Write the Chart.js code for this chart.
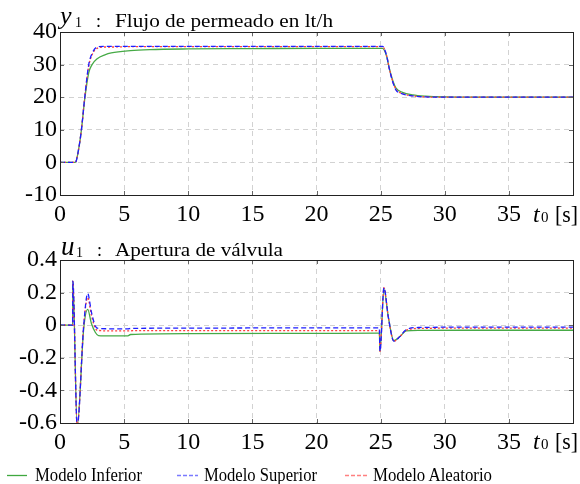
<!DOCTYPE html>
<html>
<head>
<meta charset="utf-8">
<script src="https://cdn.jsdelivr.net/npm/chart.js"></script>
<style>
  html, body { margin: 0; padding: 0; background: #fff; }
  #wrap { position: relative; width: 580px; height: 484px; overflow: hidden; }
  .box { position: absolute; left: 0; width: 580px; height: 230px; }
  #labels { position: absolute; left: 0; top: 0; }
  #labels text { font-family: "Liberation Serif", "Times New Roman", serif; fill: #000; }
</style>
</head>
<body>
<div id="wrap">
  <div class="box" style="top:0"><canvas id="chartY" width="580" height="230"></canvas></div>
  <div class="box" style="top:228px"><canvas id="chartU" width="580" height="230"></canvas></div>
  <svg id="labels" width="580" height="484">
    <!-- titulos -->
    <text x="60" y="23.5" font-size="26" font-style="italic">y</text>
    <text x="75" y="26.5" font-size="14">1</text>
    <text x="96" y="26.5" font-size="18">:</text>
    <text x="115" y="26.5" font-size="18" textLength="218" lengthAdjust="spacingAndGlyphs">Flujo de permeado en lt/h</text>

    <text x="61" y="255" font-size="27" font-style="italic">u</text>
    <text x="76" y="256.5" font-size="14">1</text>
    <text x="97" y="255.5" font-size="18">:</text>
    <text x="115" y="255.5" font-size="18" textLength="168" lengthAdjust="spacingAndGlyphs">Apertura de válvula</text>

    <!-- eje t -->
    <text x="533" y="221.5" font-size="24" font-style="italic">t</text>
    <text x="541" y="221.5" font-size="15">0</text>
    <text x="555" y="221.5" font-size="24" textLength="23" lengthAdjust="spacingAndGlyphs">[s]</text>
    <text x="533" y="449" font-size="24" font-style="italic">t</text>
    <text x="541" y="449" font-size="15">0</text>
    <text x="555" y="449" font-size="24" textLength="23" lengthAdjust="spacingAndGlyphs">[s]</text>

    <!-- leyenda -->
    <line x1="7" y1="475.5" x2="27" y2="475.5" stroke="#3fa83f" stroke-width="1.3"></line>
    <text x="35" y="481" font-size="18" textLength="107" lengthAdjust="spacingAndGlyphs">Modelo Inferior</text>
    <line x1="177" y1="475.5" x2="198" y2="475.5" stroke="#7a7aff" stroke-width="1.3" stroke-dasharray="4,2"></line>
    <text x="204" y="481" font-size="18" textLength="113" lengthAdjust="spacingAndGlyphs">Modelo Superior</text>
    <line x1="345" y1="475.5" x2="367" y2="475.5" stroke="#ff8080" stroke-width="1.3" stroke-dasharray="4,2"></line>
    <text x="373" y="481" font-size="18" textLength="119" lengthAdjust="spacingAndGlyphs">Modelo Aleatorio</text>
  </svg>
</div>
<script>
// tiempo [s] y flujo de permeado y1 [lt/h]
var tY = [0, 1.2, 1.45, 1.67, 1.93, 2.24, 2.5, 2.9, 3.5, 4, 5.5, 7, 10, 15, 20, 25.15, 25.45, 25.7, 26.0, 26.2, 26.7, 27.5, 28.5, 30, 35, 40];
var ySuperior  = [0, 0, 4, 10, 20, 30, 33.4, 35.4, 35.6, 35.6, 35.6, 35.6, 35.6, 35.6, 35.6, 35.6, 33, 28.3, 24, 22.2, 21, 20.4, 20.1, 20, 20, 20];
var yAleatorio = [0, 0, 4, 10, 20, 29.5, 33, 35, 35.4, 35.4, 35.5, 35.5, 35.5, 35.5, 35.5, 35.5, 33, 28.4, 24.2, 22.4, 21.1, 20.4, 20.1, 20, 20, 20];
var yInferior  = [0, 0, 4, 10, 19.5, 27.5, 30, 31.8, 33, 33.6, 34.3, 34.6, 34.8, 34.9, 35, 35, 32.8, 28.5, 24.5, 22.8, 21.5, 20.7, 20.3, 20.1, 20, 20];

// tiempo [s] y apertura de valvula u1
var tU = [0, 0.99, 1.0, 1.34, 1.85, 2.16, 2.45, 2.76, 3.0, 4, 5.3, 5.5, 10, 20, 24.9, 24.95, 25.26, 25.6, 26.03, 26.5, 27.0, 28, 32, 40];
var uSuperior  = [0, 0, 0.27, -0.62, 0, 0.195, 0.08, -0.006, -0.02, -0.022, -0.022, -0.02, -0.018, -0.016, -0.016, -0.16, 0.23, 0.05, -0.098, -0.07, -0.027, -0.014, -0.012, -0.012];
var uAleatorio = [0, 0, 0.27, -0.62, 0, 0.17, 0.06, -0.02, -0.032, -0.035, -0.035, -0.034, -0.033, -0.033, -0.033, -0.16, 0.23, 0.05, -0.098, -0.07, -0.03, -0.02, -0.018, -0.018];
var uInferior  = [0, 0, 0.27, -0.62, -0.02, 0.097, 0.01, -0.045, -0.064, -0.066, -0.065, -0.057, -0.052, -0.05, -0.049, -0.16, 0.22, 0.05, -0.095, -0.07, -0.035, -0.032, -0.031, -0.031];

// ticks
var tTicks = [0, 5, 10, 15, 20, 25, 30, 35, 40];
var tTickLabels = ['0', '5', '10', '15', '20', '25', '30', '35', ''];
var yTicks = [-10, 0, 10, 20, 30, 40];
var yTickLabels = ['-10', '0', '10', '20', '30', '40'];
var uTicks = [-0.6, -0.4, -0.2, 0, 0.2, 0.4];
var uTickLabels = ['-0.6', '-0.4', '-0.2', '0', '0.2', '0.4'];

var serif = '"Liberation Serif", "Times New Roman", serif';

function pts(t, v) {
    return t.map(function (x, i) { return { x: x, y: v[i] }; });
}

// marco negro y marcas cortas hacia adentro
var frame = {
    id: 'frame',
    afterDraw: function (chart) {
        var a = chart.chartArea, ctx = chart.ctx;
        var sx = chart.scales.x, sy = chart.scales.y;
        ctx.save();
        ctx.strokeStyle = '#666';
        ctx.lineWidth = 1;
        ctx.beginPath();
        sx.ticks.forEach(function (t) {
            var px = Math.round(sx.getPixelForValue(t.value)) + 0.5;
            ctx.moveTo(px, a.bottom); ctx.lineTo(px, a.bottom - 4);
            ctx.moveTo(px, a.top); ctx.lineTo(px, a.top + 4);
        });
        sy.ticks.forEach(function (t) {
            var py = Math.round(sy.getPixelForValue(t.value)) + 0.5;
            ctx.moveTo(a.left, py); ctx.lineTo(a.left + 4, py);
            ctx.moveTo(a.right, py); ctx.lineTo(a.right - 4, py);
        });
        ctx.stroke();
        ctx.strokeStyle = '#222';
        ctx.strokeRect(Math.round(a.left) + 0.5, Math.round(a.top) + 0.5,
            Math.round(a.right - a.left), Math.round(a.bottom - a.top));
        ctx.restore();
    }
};

function makeChart(id, t, sup, ale, inf, yMin, yMax, yT, yL) {
    return new Chart(document.getElementById(id).getContext('2d'), {
        type: 'line',
        data: {
            datasets: [{
                label: 'Modelo Superior',
                data: pts(t, sup),
                borderColor: 'rgb(30, 30, 255)',
                borderWidth: 1.3,
                borderDash: [5, 3]
            }, {
                label: 'Modelo Aleatorio',
                data: pts(t, ale),
                borderColor: 'rgb(255, 60, 60)',
                borderWidth: 1.3,
                borderDash: [2, 2]
            }, {
                label: 'Modelo Inferior',
                data: pts(t, inf),
                borderColor: 'rgb(70, 170, 70)',
                borderWidth: 1.3
            }]
        },
        options: {
            responsive: false,
            animation: false,
            layout: { padding: { top: 32, right: 7, left: 0, bottom: 0 } },
            elements: {
                point: { radius: 0 },
                line: { cubicInterpolationMode: 'monotone', fill: false }
            },
            plugins: { legend: { display: false }, tooltip: { enabled: false } },
            scales: {
                x: {
                    type: 'linear', min: 0, max: 40,
                    afterBuildTicks: function (s) { s.ticks = tTicks.map(function (v) { return { value: v }; }); },
                    afterFit: function (s) { s.height = 35; },
                    grid: { color: '#d2d2d2', drawTicks: false },
                    border: { display: false, dash: [5, 4] },
                    ticks: {
                        autoSkip: false, maxRotation: 0, padding: 5, color: '#000',
                        font: { family: serif, size: 24 },
                        callback: function (v, i) { return tTickLabels[i]; }
                    }
                },
                y: {
                    min: yMin, max: yMax,
                    afterBuildTicks: function (s) { s.ticks = yT.map(function (v) { return { value: v }; }); },
                    afterFit: function (s) { s.width = 60; },
                    grid: { color: '#d2d2d2', drawTicks: false },
                    border: { display: false, dash: [5, 4] },
                    ticks: {
                        autoSkip: false, padding: 3, color: '#000',
                        font: { family: serif, size: 24 },
                        callback: function (v, i) { return yL[i]; }
                    }
                }
            }
        },
        plugins: [frame]
    });
}

var chartY = makeChart('chartY', tY, ySuperior, yAleatorio, yInferior, -10, 40, yTicks, yTickLabels);
var chartU = makeChart('chartU', tU, uSuperior, uAleatorio, uInferior, -0.6, 0.4, uTicks, uTickLabels);
</script>
</body>
</html>
